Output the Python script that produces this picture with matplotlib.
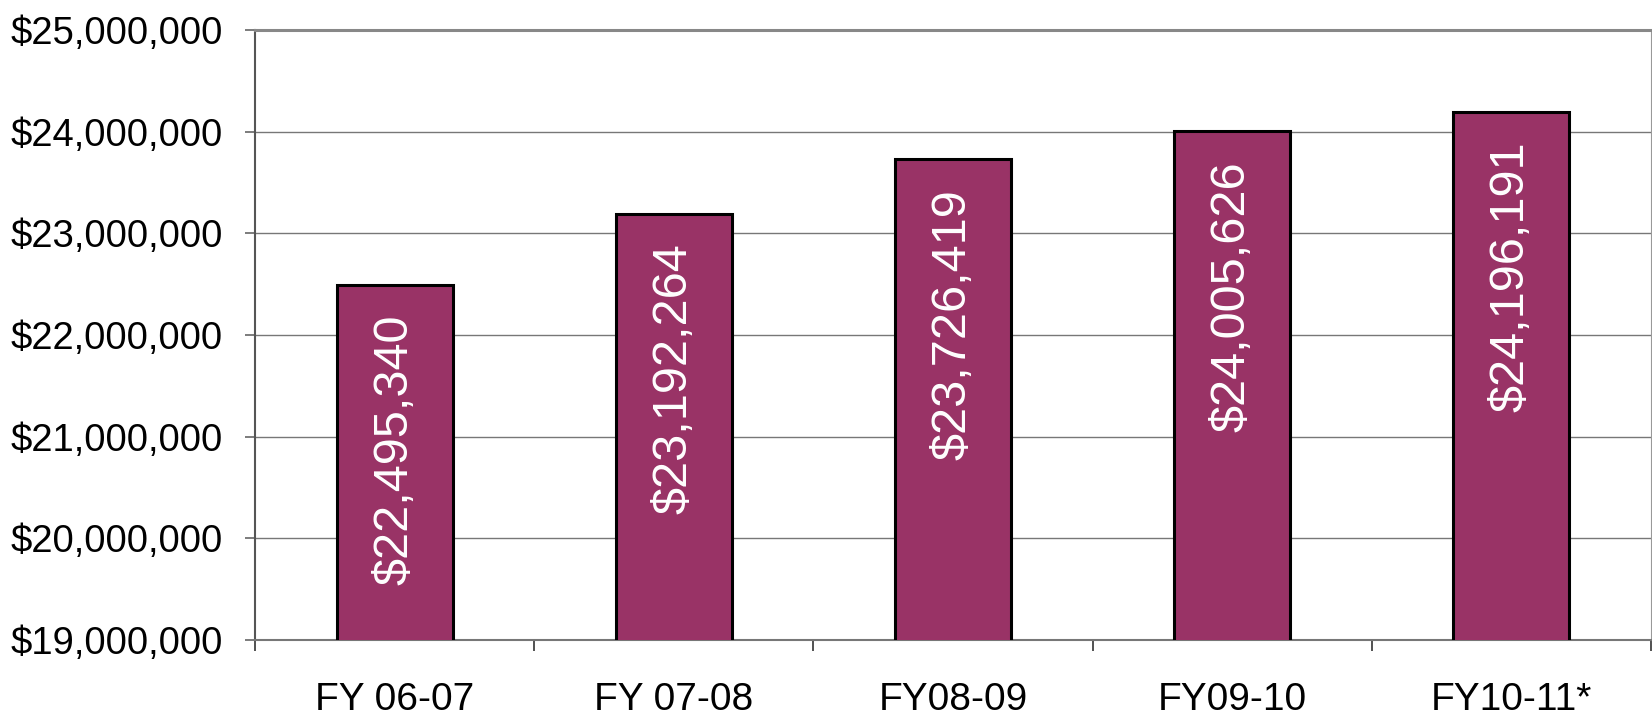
import matplotlib
matplotlib.use("Agg")
import matplotlib.pyplot as plt
from matplotlib.ticker import FuncFormatter, FixedLocator

categories = ["FY 06-07", "FY 07-08", "FY08-09", "FY09-10", "FY10-11*"]
values = [22495340, 23192264, 23726419, 24005626, 24196191]
y_ticks = [19000000, 20000000, 21000000, 22000000, 23000000, 24000000, 25000000]

plt.rcParams['font.family'] = ['Liberation Sans', 'DejaVu Sans']

fig = plt.figure(figsize=(16.52, 7.2), dpi=100)
ax = fig.add_axes([255/1652, 1 - 640/720, (1651 - 255)/1652, (640 - 30)/720])

x = list(range(len(categories)))
ax.bar(x, values, width=0.415, color="#993366", edgecolor="black", linewidth=2.2, zorder=3)

for xi, v in zip(x, values):
    ax.annotate(f"${v:,.0f}", xy=(xi, v), xytext=(0, -21.5), textcoords="offset points",
                rotation=90, ha="center", va="top", color="white", fontsize=35, zorder=4)

ax.set_xlim(-0.5, len(categories) - 0.5)
ax.set_ylim(y_ticks[0], y_ticks[-1])
ax.yaxis.set_major_locator(FixedLocator(y_ticks))
ax.yaxis.set_major_formatter(FuncFormatter(lambda v, p: f"${v:,.0f}"))
ax.set_xticks(x)
ax.set_xticklabels(categories)
ax.set_xticks([i - 0.5 for i in range(len(categories) + 1)], minor=True)

ax.tick_params(axis="x", which="major", length=0, pad=30, labelsize=28)
ax.tick_params(axis="x", which="minor", length=8, width=1.2, color="#333333", direction="out")
ax.tick_params(axis="y", which="major", length=7.2, width=1.2, color="#666666", pad=16, labelsize=27.5)

ax.grid(axis="y", color="#777777", linewidth=1.0, zorder=0)
ax.set_axisbelow(True)

ax.spines["top"].set_color("#888888")
ax.spines["top"].set_linewidth(2.2)
ax.spines["left"].set_color("#555555")
ax.spines["left"].set_linewidth(1.5)
ax.spines["bottom"].set_color("#777777")
ax.spines["bottom"].set_linewidth(1.5)
ax.spines["right"].set_color("#999999")
ax.spines["right"].set_linewidth(0.8)

fig.savefig("out.png", dpi=100)
